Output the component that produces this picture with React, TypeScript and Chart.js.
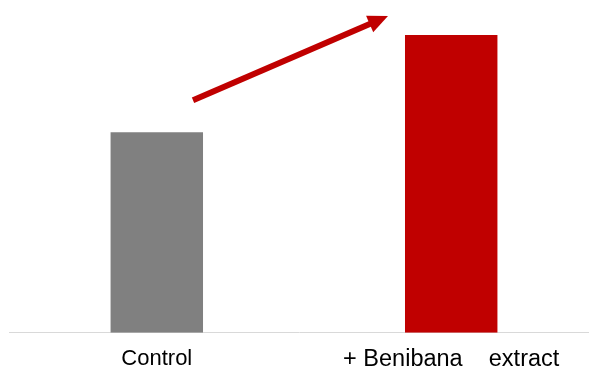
import React, { useEffect, useRef } from "react";
import { Chart, registerables } from "chart.js";

Chart.register(...registerables);

const categories = ["Control", "+ Benibana    extract"];
const labelSizes = [22, 23.5];
const values = [100, 148.5];
const barColors = ["#808080", "#c00000"];

const arrowPlugin = {
  id: "arrowPlugin",
  afterDatasetsDraw(chart: any) {
    const meta = chart.getDatasetMeta(0);
    const a = meta.data[0];
    const b = meta.data[1];
    if (!a || !b) return;
    const x1 = a.x + a.width / 2 - 10;
    const y1 = a.y - 32;
    const x2 = b.x - b.width / 2 - 17;
    const y2 = b.y - 19;
    const ctx = chart.ctx;
    const ang = Math.atan2(y2 - y1, x2 - x1);
    const headLen = 20;
    const headHalf = 9;
    const bx = x2 - headLen * Math.cos(ang);
    const by = y2 - headLen * Math.sin(ang);
    ctx.save();
    ctx.strokeStyle = "#c00000";
    ctx.fillStyle = "#c00000";
    ctx.lineWidth = 6;
    ctx.beginPath();
    ctx.moveTo(x1, y1);
    ctx.lineTo(bx + 2 * Math.cos(ang), by + 2 * Math.sin(ang));
    ctx.stroke();
    ctx.beginPath();
    ctx.moveTo(x2, y2);
    ctx.lineTo(bx + headHalf * Math.sin(ang), by - headHalf * Math.cos(ang));
    ctx.lineTo(bx - headHalf * Math.sin(ang), by + headHalf * Math.cos(ang));
    ctx.closePath();
    ctx.fill();
    ctx.restore();
  },
};

export default function App() {
  const ref = useRef<HTMLCanvasElement>(null);
  useEffect(() => {
    if (!ref.current) return;
    const chart = new Chart(ref.current, {
      type: "bar",
      data: {
        datasets: [
          {
            data: values.map((v, i) => ({ x: i, y: v })),
            backgroundColor: barColors,
            borderWidth: 0,
            categoryPercentage: 1,
            barPercentage: 0.314,
          } as any,
        ],
      },
      plugins: [arrowPlugin],
      options: {
        animation: false,
        responsive: false,
        layout: { padding: { left: 9, right: 0, top: 0, bottom: -20 } },
        plugins: { legend: { display: false }, tooltip: { enabled: false } },
        scales: {
          x: {
            type: "linear",
            offset: false,
            min: -0.502,
            max: 1.468,
            afterBuildTicks: (scale: any) => {
              scale.ticks = categories.map((_, i) => ({ value: i }));
            },
            ticks: {
              callback: (v: any) => categories[Math.round(Number(v))] ?? "",
              font: (ctx: any) => ({
                family: "'Liberation Sans', Arial, sans-serif",
                size: labelSizes[ctx.index] ?? 22,
              }),
              color: "#000000",
              padding: 13,
              maxRotation: 0,
              autoSkip: false,
            },
            grid: { display: false, drawTicks: false, offset: false },
            border: { display: true, color: "#d9d9d9", width: 1 },
          },
          y: {
            display: false,
            min: 0,
            max: 166,
          },
        },
      },
    } as any);
    return () => chart.destroy();
  }, []);
  return (
    <div style={{ position: "fixed", left: 0, top: 0, width: 589, height: 367, background: "#fff" }}>
      <canvas ref={ref} width={589} height={367} style={{ width: 589, height: 367 }} />
    </div>
  );
}
